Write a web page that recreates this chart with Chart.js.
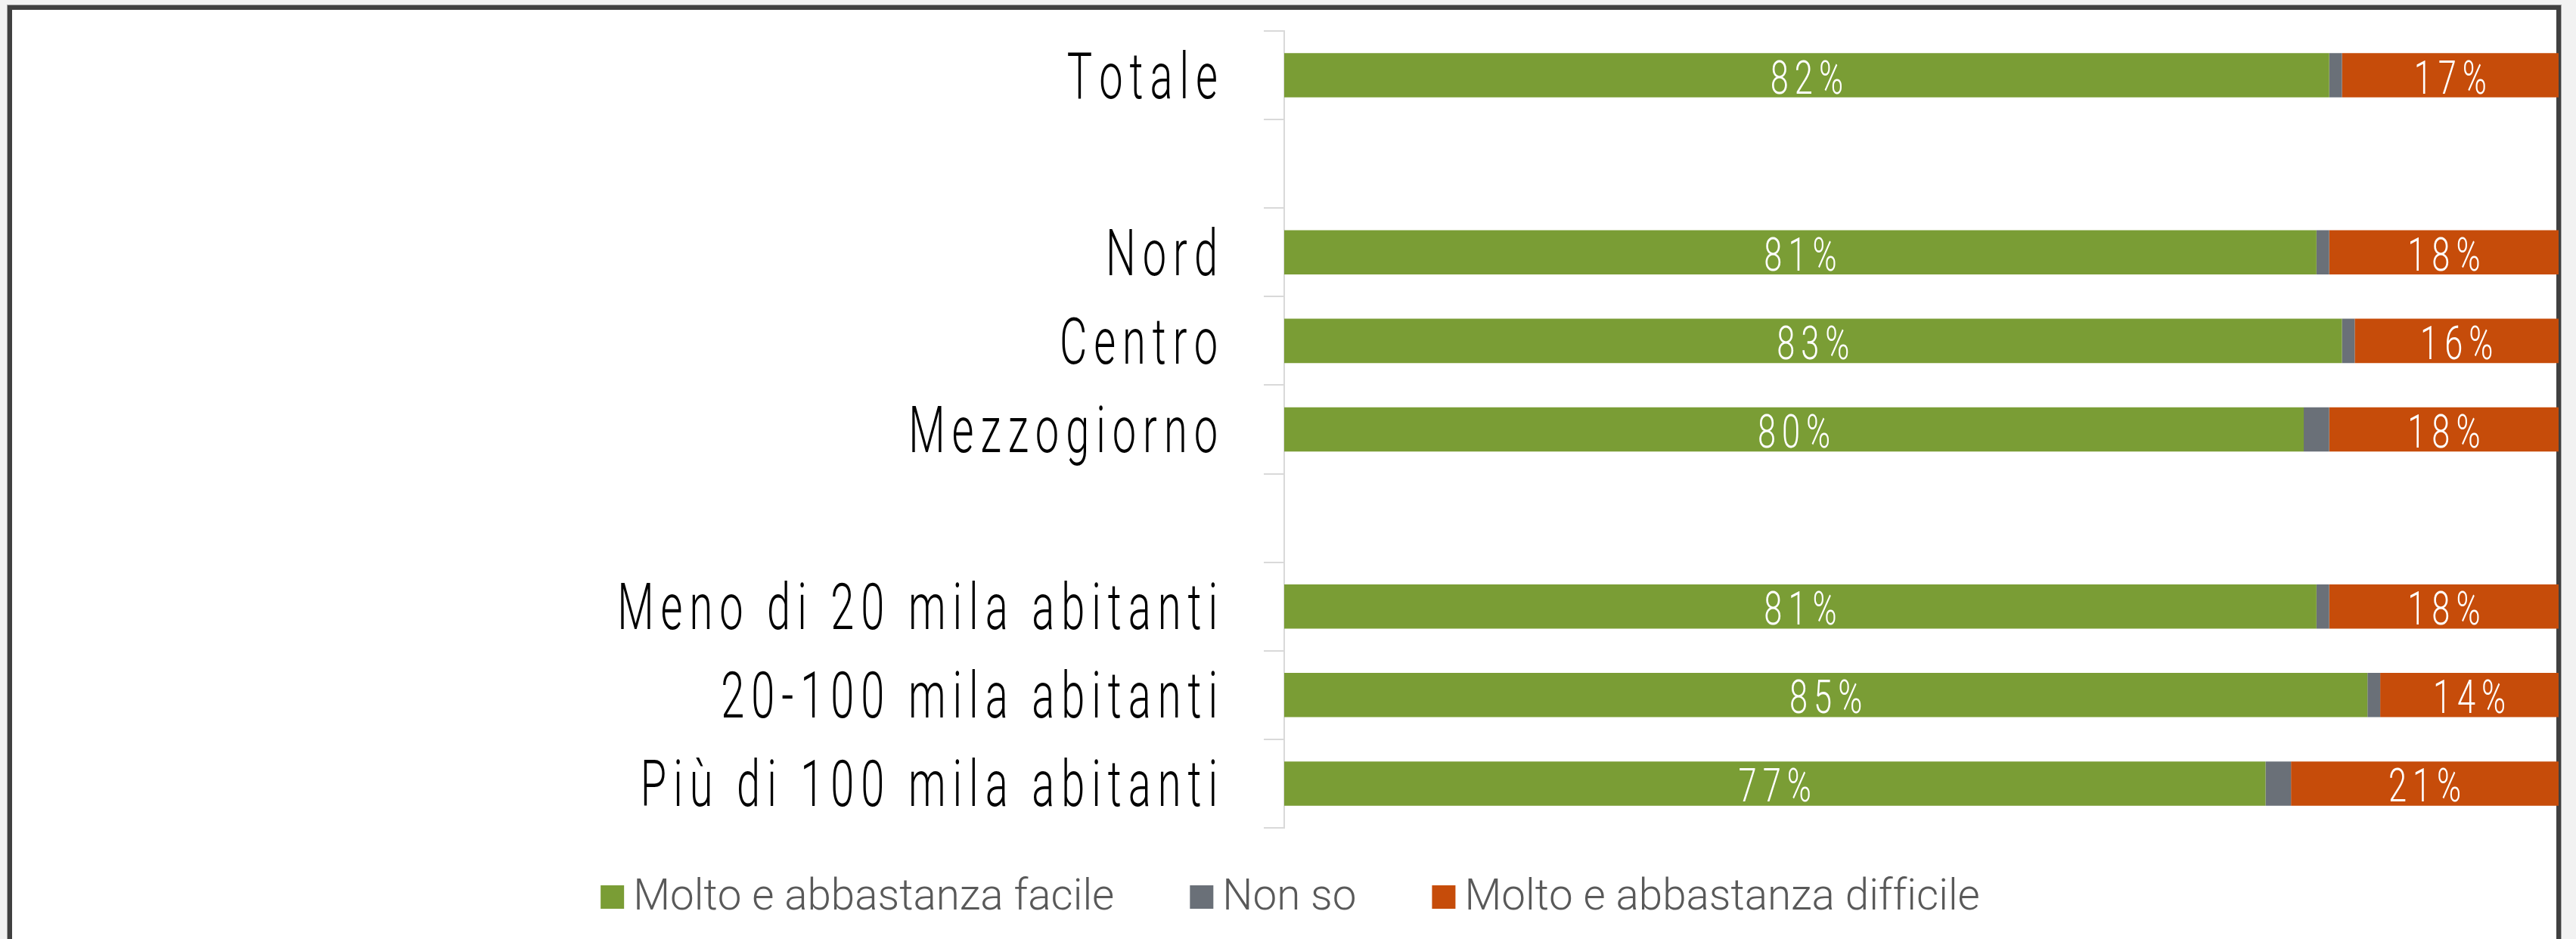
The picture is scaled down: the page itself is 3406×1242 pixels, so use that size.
<!DOCTYPE html>
<html>
<head>
<meta charset="utf-8">
<script src="https://cdn.jsdelivr.net/npm/chart.js@4.4.1/dist/chart.umd.min.js"></script>
<style>
html, body { margin: 0; padding: 0; width: 3406px; height: 1242px; overflow: hidden; background: #f2f2f2; }
#frame { position: absolute; left: 10px; top: 7px; width: 3376px; height: 1300px; box-sizing: border-box;
  border: 6px solid #404040; border-bottom: none; background: #ffffff; box-shadow: 0 0 0 1px #a8a8a8; }
#c { position: absolute; left: 0; top: 0; }
</style>
</head>
<body>
<div id="frame"></div>
<canvas id="c" width="3406" height="1242"></canvas>
<script>
// ---- data ----
const categories = ['Totale', '', 'Nord', 'Centro', 'Mezzogiorno', '', 'Meno di 20 mila abitanti', '20-100 mila abitanti', 'Più di 100 mila abitanti'];
const seriesNames = ['Molto e abbastanza facile', 'Non so', 'Molto e abbastanza difficile'];
const facile    = [82, null, 81, 83, 80, null, 81, 85, 77];
const nonSo     = [1,  null, 1,  1,  2,  null, 1,  1,  2];
const difficile = [17, null, 18, 16, 18, null, 18, 14, 21];
const seriesColors = ['#7A9D35', '#6A7078', '#C64C0A'];
const labelledSeries = [true, false, true];

// ---- helpers ----
function spacedWidth(ctx, text, sx, sp) {
  let w = 0;
  for (const ch of text) w += ctx.measureText(ch).width * sx;
  return w + sp * Math.max(0, [...text].length - 1);
}
function drawSpaced(ctx, text, x, y, align, sx, sp) {
  const total = spacedWidth(ctx, text, sx, sp);
  let cx = align === 'right' ? x - total : (align === 'center' ? x - total / 2 : x);
  ctx.textAlign = 'left';
  for (const ch of text) {
    ctx.save();
    ctx.translate(cx, y);
    ctx.scale(sx, 1);
    ctx.fillText(ch, 0, 0);
    ctx.restore();
    cx += ctx.measureText(ch).width * sx + sp;
  }
}

const FONT = 'Roboto, "Noto Sans", "DejaVu Sans", sans-serif';

const categoryLabelPlugin = {
  id: 'categoryLabels',
  afterDraw(chart) {
    const ctx = chart.ctx;
    const ys = chart.scales.y;
    ctx.save();
    ctx.font = '300 86px ' + FONT;
    ctx.fillStyle = '#000000';
    ctx.textBaseline = 'alphabetic';
    categories.forEach((lab, i) => {
      if (!lab) return;
      const y = ys.getPixelForValue(i);
      drawSpaced(ctx, lab, ys.right - 88, y + 30, 'right', 0.65, 9);
    });
    ctx.restore();
  }
};

const dataLabelPlugin = {
  id: 'dataLabels',
  afterDatasetsDraw(chart) {
    const ctx = chart.ctx;
    ctx.save();
    ctx.font = '300 62px ' + FONT;
    ctx.fillStyle = '#ffffff';
    ctx.textBaseline = 'alphabetic';
    chart.data.datasets.forEach((ds, di) => {
      if (!labelledSeries[di]) return;
      const meta = chart.getDatasetMeta(di);
      meta.data.forEach((el, i) => {
        const v = ds.data[i];
        if (v === null || v === undefined) return;
        const cx = (el.x + el.base) / 2;
        drawSpaced(ctx, v + '%', cx, el.y + 24, 'center', 0.7, 8);
      });
    });
    ctx.restore();
  }
};

const legendPlugin = {
  id: 'customLegend',
  afterDraw(chart) {
    const ctx = chart.ctx;
    ctx.save();
    ctx.font = '300 58px ' + FONT;
    ctx.textBaseline = 'alphabetic';
    const sx = 0.975, sq = 31, gapSq = 12, gapItem = 100;
    const widths = seriesNames.map(n => spacedWidth(ctx, n, sx, 0));
    const total = widths.reduce((a, w) => a + sq + gapSq + w, 0) + gapItem * (seriesNames.length - 1);
    let x = 1706 - total / 2;
    const base = 1203;
    seriesNames.forEach((n, i) => {
      ctx.fillStyle = seriesColors[i];
      ctx.fillRect(x, base - 32, sq, sq);
      x += sq + gapSq;
      ctx.fillStyle = '#595959';
      drawSpaced(ctx, n, x, base, 'left', sx, 0);
      x += widths[i] + gapItem;
    });
    ctx.restore();
  }
};

const datasets = [facile, nonSo, difficile].map((arr, i) => ({
  label: seriesNames[i],
  data: arr,
  backgroundColor: seriesColors[i],
  borderWidth: 0,
  barPercentage: 0.5,
  categoryPercentage: 1.0
}));

new Chart(document.getElementById('c'), {
  type: 'bar',
  data: { labels: categories, datasets },
  options: {
    indexAxis: 'y',
    responsive: false,
    devicePixelRatio: 1,
    animation: false,
    layout: { padding: { left: 0, right: 23, top: 41, bottom: 147 } },
    plugins: { legend: { display: false }, tooltip: { enabled: false } },
    scales: {
      x: { stacked: true, min: 0, max: 100, display: false },
      y: {
        stacked: true,
        afterFit(scale) { scale.width = 1698; },
        ticks: { display: false },
        grid: { display: true, offset: true, drawOnChartArea: false, drawTicks: true, tickLength: 27, color: '#d9d9d9', lineWidth: 2 },
        border: { display: true, color: '#d9d9d9', width: 2 }
      }
    }
  },
  plugins: [categoryLabelPlugin, dataLabelPlugin, legendPlugin]
});
</script>
</body>
</html>
